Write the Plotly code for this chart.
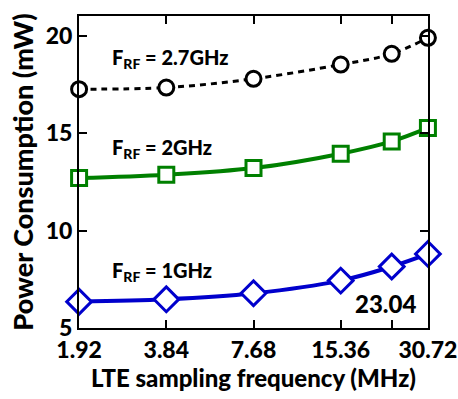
import plotly.graph_objects as go

# LTE sampling frequencies (MHz)
freq_mhz = [1.92, 3.84, 7.68, 15.36, 23.04, 30.72]
x_tick_vals = [1.92, 3.84, 7.68, 15.36, 23.04, 30.72]
x_tick_text = ["1.92", "3.84", "7.68", "15.36", "", "30.72"]

# Power consumption (mW) per RF carrier frequency
power_27ghz = [17.25, 17.33, 17.78, 18.51, 19.06, 19.88]
power_2ghz = [12.69, 12.86, 13.20, 13.94, 14.57, 15.26]
power_1ghz = [6.35, 6.47, 6.78, 7.43, 8.15, 8.80]

y_tick_vals = [5, 10, 15, 20]

FONT = "Lato"
BLUE = "rgb(0,0,204)"
GREEN = "rgb(0,128,0)"

fig = go.Figure()

fig.add_trace(go.Scatter(
    x=freq_mhz, y=power_27ghz, mode="lines+markers",
    line=dict(color="black", width=3, dash="6px,5px", shape="spline"),
    marker=dict(symbol="circle", size=15, color="white",
                line=dict(color="black", width=3)),
    cliponaxis=False, showlegend=False,
))
fig.add_trace(go.Scatter(
    x=freq_mhz, y=power_2ghz, mode="lines+markers",
    line=dict(color=GREEN, width=4, shape="spline"),
    marker=dict(symbol="square", size=15, color="white",
                line=dict(color=GREEN, width=3)),
    cliponaxis=False, showlegend=False,
))
fig.add_trace(go.Scatter(
    x=freq_mhz, y=power_1ghz, mode="lines+markers",
    line=dict(color=BLUE, width=4, shape="spline"),
    marker=dict(symbol="diamond", size=19, color="white",
                line=dict(color=BLUE, width=3)),
    cliponaxis=False, showlegend=False,
))

label_font = dict(family=FONT, size=20, color="black", weight=900)
labels = [
    ("F<sub>RF</sub> = 2.7GHz", 59),
    ("F<sub>RF</sub> = 2GHz", 148),
    ("F<sub>RF</sub> = 1GHz", 271),
]
for text, ypix in labels:
    fig.add_annotation(
        text=text, xref="paper", yref="paper",
        x=(110 - 79) / 349, y=(328 - ypix) / 312,
        xanchor="left", yanchor="middle", showarrow=False,
        font=label_font,
    )
fig.add_annotation(
    text="23.04", xref="paper", yref="paper",
    x=(418 - 79) / 349, y=(328 - 303) / 312,
    xanchor="right", yanchor="middle", showarrow=False,
    font=dict(family=FONT, size=24, color="black", weight=900),
)

tick_font = dict(family=FONT, size=23, color="black", weight=900)
title_font = dict(family=FONT, size=24, color="black", weight=900)
fig.update_xaxes(
    type="log",
    range=[0.2830, 1.4877],
    tickvals=x_tick_vals, ticktext=x_tick_text,
    ticks="inside", ticklen=8, tickwidth=2, tickcolor="black",
    showline=True, linecolor="black", linewidth=2, mirror="ticks",
    showgrid=False, zeroline=False, automargin=False,
    tickfont=tick_font,
    title=dict(text="LTE sampling frequency (MHz)", font=title_font, standoff=8),
)
fig.update_yaxes(
    range=[5, 21],
    tickvals=y_tick_vals,
    ticks="inside", ticklen=8, tickwidth=2, tickcolor="black",
    showline=True, linecolor="black", linewidth=2, mirror="ticks",
    showgrid=False, zeroline=False, automargin=False,
    tickfont=tick_font,
    title=dict(text="Power Consumption (mW)",
               font=dict(family=FONT, size=27, color="black", weight=900),
               standoff=4),
)

fig.update_layout(
    width=458, height=399,
    margin=dict(l=79, r=30, t=16, b=71),
    paper_bgcolor="white", plot_bgcolor="white",
)

fig.write_html("out.html")
